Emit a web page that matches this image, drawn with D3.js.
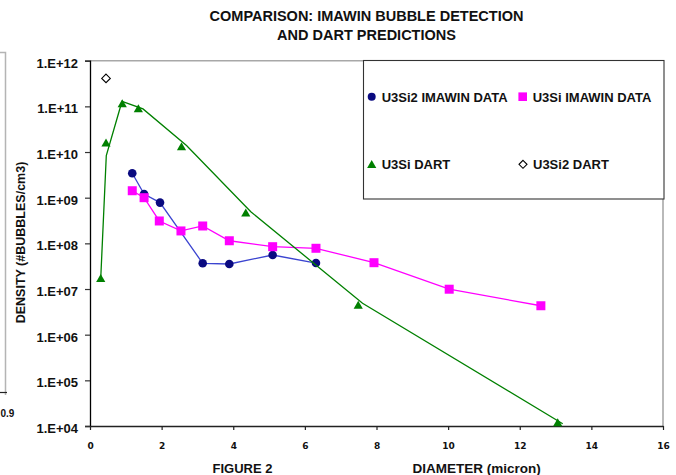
<!DOCTYPE html>
<html>
<head>
<meta charset="utf-8">
<script src="https://cdn.jsdelivr.net/npm/d3@7"></script>
<style>
  html, body { margin: 0; padding: 0; background: #fff; }
  svg { display: block; }
  text { font-family: "Liberation Sans", Arial, sans-serif; font-weight: bold; fill: #111; }
</style>
</head>
<body>
<svg id="chart" width="676" height="475"></svg>
<script>
// Bubble diameter (micron) and density (#bubbles/cm3) per series
const u3si2ImawinDiam = [1.18, 1.51, 1.955, 3.147, 3.89, 5.10, 6.31];
const u3si2ImawinDens = [3.43e9, 1.2e9, 7.8e8, 3.66e7, 3.53e7, 5.56e7, 3.7e7];

const u3siImawinDiam = [1.18, 1.51, 1.935, 2.54, 3.147, 3.89, 5.10, 6.31, 7.93, 10.03, 12.59];
const u3siImawinDens = [1.42e9, 1.0e9, 3.09e8, 1.87e8, 2.4e8, 1.14e8, 8.45e7, 7.8e7, 3.77e7, 9.9e6, 4.3e6];

// DART prediction points (markers) and the DART curve drawn through them
const u3siDartDiam = [0.30, 0.447, 0.90, 1.35, 2.555, 4.35, 7.49, 13.06];
const u3siDartDens = [1.72e7, 1.6e10, 1.16e11, 9.0e10, 1.32e10, 4.7e8, 4.47e6, 1.2e4];
const u3siDartCurveDiam = [0.30, 0.455, 0.893, 1.48, 2.695, 4.49, 7.61, 13.2];
const u3siDartCurveDens = [1.72e7, 8.4e9, 1.28e11, 8.8e10, 1.39e10, 4.93e8, 4.87e6, 1.12e4];

const u3si2DartDiam = [0.447];
const u3si2DartDens = [4.1e11];

const xTicks = [0, 2, 4, 6, 8, 10, 12, 14, 16];
const yTicks = [1e4, 1e5, 1e6, 1e7, 1e8, 1e9, 1e10, 1e11, 1e12];
const titleLines = ["COMPARISON: IMAWIN BUBBLE DETECTION", "AND DART PREDICTIONS"];
const legendLabels = ["U3Si2 IMAWIN DATA", "U3Si IMAWIN DATA", "U3Si DART", "U3Si2 DART"];

const svg = d3.select("#chart");
svg.append("rect").attr("width", 676).attr("height", 475).attr("fill", "#fff");

const L = 90, R = 663, T = 60.7, B = 426;
const x = d3.scaleLinear().domain([0, 16]).range([L, R]);
const y = d3.scaleLog().domain([1e4, 1e12]).range([B, T]);

// Edge of the neighbouring figure panel
const side = svg.append("g");
side.append("path").attr("d", "M0,52.5H5.5V395").attr("fill", "none")
  .attr("stroke", "#b4b4b4").attr("stroke-width", 1.5);
side.append("line").attr("x1", 0).attr("x2", 7).attr("y1", 392.5).attr("y2", 392.5)
  .attr("stroke", "#222").attr("stroke-width", 1.2);
side.append("text").attr("x", 0.5).attr("y", 417)
  .style("font-size", "10px").text("0.9");

// Plot frame: grey top and right edges
svg.append("path").attr("d", `M${L},${T}H${R}V${B}`).attr("fill", "none")
  .attr("stroke", "#a8a8a8").attr("stroke-width", 1.6);

// Y axis
const yAxis = d3.axisLeft(y).tickValues(yTicks).tickSize(5).tickPadding(0)
  .tickFormat(d => "1.E+" + String(Math.round(Math.log10(d))).padStart(2, "0"));
const gy = svg.append("g").attr("transform", `translate(${L},0)`).call(yAxis);
gy.select(".domain").attr("stroke", "#000").attr("stroke-width", 1.3);
gy.selectAll(".tick line").attr("stroke", "#333").attr("stroke-width", 1.2);
gy.selectAll(".tick text").attr("x", -12).attr("dy", "6.5").attr("y", 0)
  .style("font-size", "13px").style("font-family", "\"Liberation Sans\", Arial, sans-serif")
  .attr("fill", "#111");

// X axis
const xAxis = d3.axisBottom(x).tickValues(xTicks).tickSize(4).tickSizeOuter(0).tickFormat(d3.format("d"));
const gx = svg.append("g").attr("transform", `translate(0,${B})`).call(xAxis);
gx.select(".domain").attr("stroke", "#222").attr("stroke-width", 1.6);
gx.selectAll(".tick line").attr("stroke", "#222").attr("stroke-width", 1.2);
gx.selectAll(".tick text").attr("y", 22.5).attr("dy", 0)
  .style("font-size", "9px").style("font-family", "\"DejaVu Sans\", sans-serif").style("font-weight", "bold")
  .attr("fill", "#111");

// Titles
svg.append("g").selectAll("text").data(titleLines).join("text")
  .attr("x", 366.5).attr("y", (d, i) => 20.7 + i * 19)
  .attr("text-anchor", "middle").style("font-size", "14.5px").text(d => d);

svg.append("text").attr("transform", "translate(25,242.5) rotate(-90)")
  .attr("text-anchor", "middle").style("font-size", "12.5px").text("DENSITY (#BUBBLES/cm3)");
svg.append("text").attr("x", 212.5).attr("y", 473).style("font-size", "13px").text("FIGURE 2");
svg.append("text").attr("x", 412.5).attr("y", 473).style("font-size", "13.5px").text("DIAMETER (micron)");

// Marker shapes
const triPath = "M0,-4.2L4.6,3.8L-4.6,3.8Z";
const diamondPath = "M0,-4.3L4.3,0L0,4.3L-4.3,0Z";
const line = d3.line().x(d => x(d[0])).y(d => y(d[1]));
const zip = (a, b) => a.map((v, i) => [v, b[i]]);

const plot = svg.append("g");

// U3Si2 IMAWIN data
const s1 = zip(u3si2ImawinDiam, u3si2ImawinDens);
plot.append("path").attr("d", line(s1)).attr("fill", "none")
  .attr("stroke", "#3b44d0").attr("stroke-width", 1.3);
plot.append("g").selectAll("circle").data(s1).join("circle")
  .attr("cx", d => x(d[0])).attr("cy", d => y(d[1])).attr("r", 4.3).attr("fill", "#0a0a80");

// U3Si IMAWIN data
const s2 = zip(u3siImawinDiam, u3siImawinDens);
plot.append("path").attr("d", line(s2)).attr("fill", "none")
  .attr("stroke", "#ff00ff").attr("stroke-width", 1.3);
plot.append("g").selectAll("rect").data(s2).join("rect")
  .attr("x", d => x(d[0]) - 4.5).attr("y", d => y(d[1]) - 4.5)
  .attr("width", 9).attr("height", 9).attr("fill", "#ff00ff");

// U3Si DART
const s3c = zip(u3siDartCurveDiam, u3siDartCurveDens);
const s3 = zip(u3siDartDiam, u3siDartDens);
plot.append("path").attr("d", line(s3c)).attr("fill", "none")
  .attr("stroke", "#008000").attr("stroke-width", 1.3);
plot.append("g").selectAll("path").data(s3).join("path")
  .attr("transform", d => `translate(${x(d[0])},${y(d[1])})`).attr("d", triPath).attr("fill", "#008000");

// U3Si2 DART
const s4 = zip(u3si2DartDiam, u3si2DartDens);
plot.append("g").selectAll("path").data(s4).join("path")
  .attr("transform", d => `translate(${x(d[0])},${y(d[1])})`).attr("d", diamondPath)
  .attr("fill", "#fff").attr("stroke", "#000").attr("stroke-width", 1.1);

// Legend
const lg = svg.append("g");
lg.append("rect").attr("x", 363.5).attr("y", 60.5).attr("width", 300.5).attr("height", 138.5)
  .attr("fill", "#fff").attr("stroke", "#333").attr("stroke-width", 1.1);
const legendPos = [[371.7, 96.7], [522.7, 96.7], [371.7, 164.3], [523, 164.3]];
lg.append("circle").attr("cx", legendPos[0][0]).attr("cy", legendPos[0][1]).attr("r", 4).attr("fill", "#0a0a80");
lg.append("rect").attr("x", legendPos[1][0] - 4.3).attr("y", legendPos[1][1] - 4.3)
  .attr("width", 8.6).attr("height", 8.6).attr("fill", "#ff00ff");
lg.append("path").attr("transform", `translate(${legendPos[2][0]},${legendPos[2][1]})`)
  .attr("d", triPath).attr("fill", "#008000");
lg.append("path").attr("transform", `translate(${legendPos[3][0]},${legendPos[3][1]})`)
  .attr("d", "M0,-4L4,0L0,4L-4,0Z").attr("fill", "#fff").attr("stroke", "#000").attr("stroke-width", 1.1);
lg.selectAll("text.lab").data(legendLabels).join("text").attr("class", "lab")
  .attr("x", (d, i) => legendPos[i][0] + 10).attr("y", (d, i) => legendPos[i][1] + 4.8)
  .style("font-size", "13px").text(d => d);
</script>
</body>
</html>
